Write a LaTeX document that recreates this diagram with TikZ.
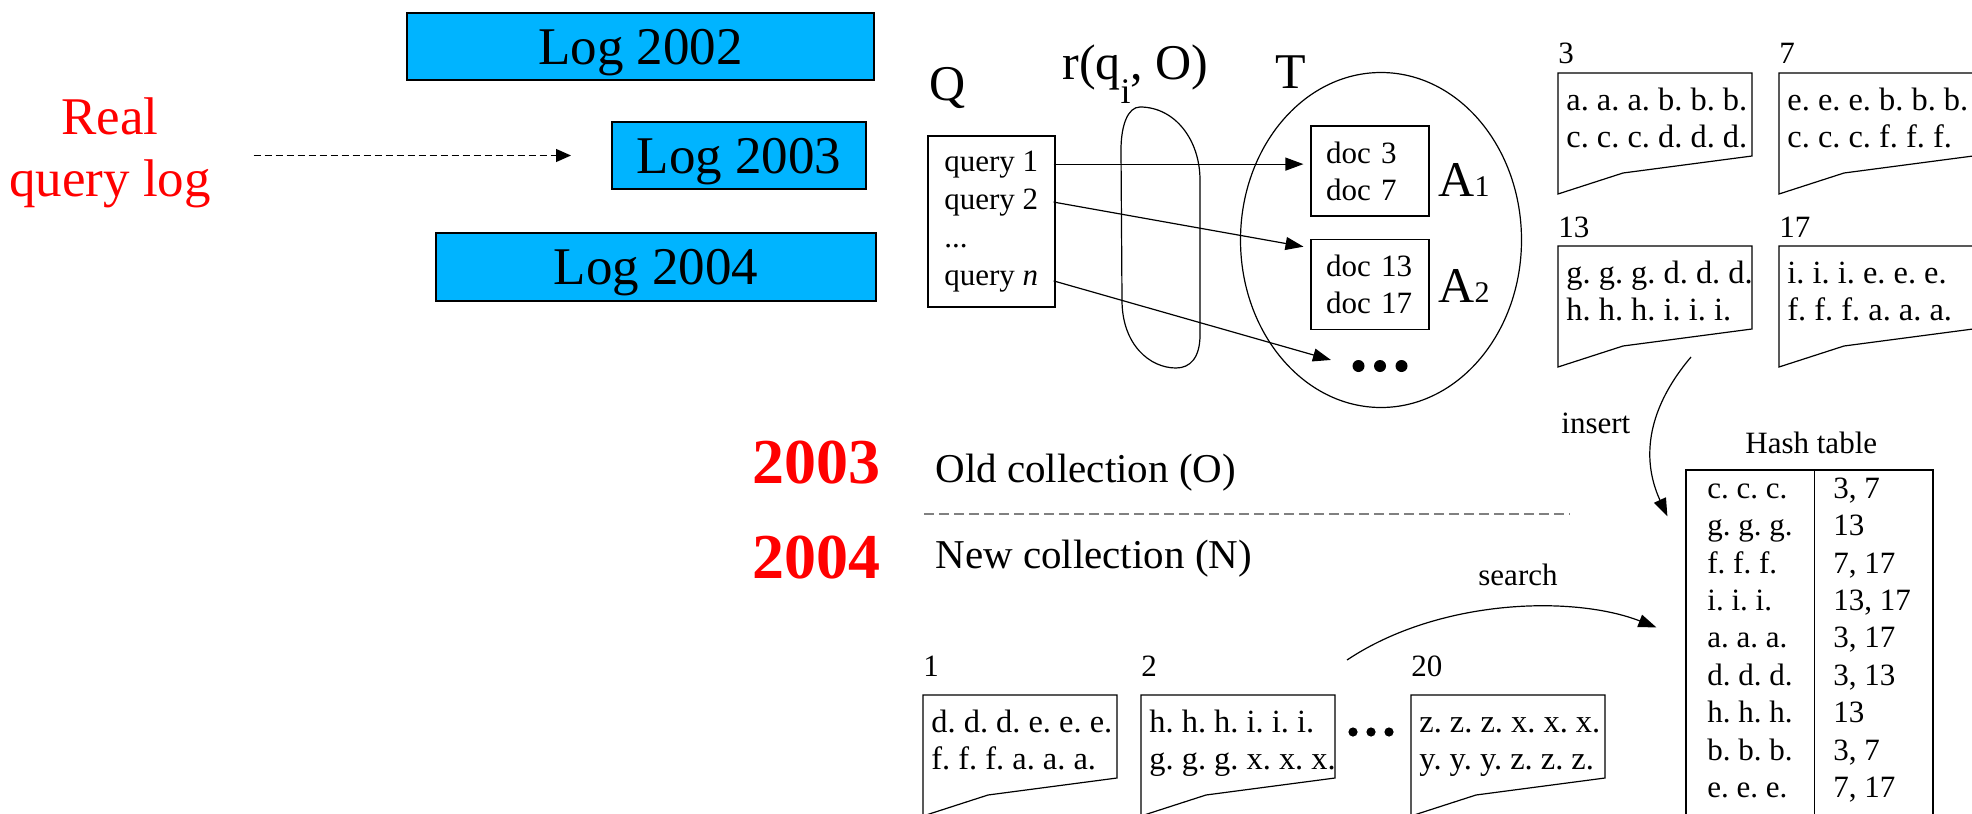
\documentclass[tikz,border=0pt]{standalone}
\usepackage{fontspec}
\setmainfont{Liberation Serif}
\usetikzlibrary{arrows.meta,calc,shapes.geometric}
\definecolor{logblue}{RGB}{0,180,255}
\begin{document}
\frenchspacing
\begin{tikzpicture}[x=0.5pt,y=-0.5pt,
  every node/.style={inner sep=0pt},
  ln/.style={line width=0.6pt},
  sm/.style={font=\fontsize{15.5}{18.5}\selectfont},
  cardfont/.style={font=\fontsize{16.2}{18.5}\selectfont},
  big/.style={font=\fontsize{25}{30}\selectfont},
  txt/.style={anchor=base west},
  arr/.style={ln,-{Triangle[length=9pt,width=6.5pt]}},
  logbox/.style={draw, line width=1pt, fill=logblue, font=\fontsize{26.5}{31}\selectfont, text height=17.8pt, text depth=0pt},
  card/.pic={\draw[ln] (0,0) -- (194,0) -- (194,83) -- (65,100) -- (0,121) -- cycle;},
  cardtext/.style={cardfont, anchor=north west, align=left},
  dotbox/.style={minimum width=27.5pt, minimum height=6pt}
]
\useasboundingbox (0,0) rectangle (1972,814);

% left part
\node[font=\fontsize{26.5}{31}\selectfont, text=red, align=center] (real) at (110,153) {Real\\query log};
\node[logbox, minimum width=233.5pt, minimum height=33.5pt] (l2002) at (640.5,46.5) {Log 2002};
\node[logbox, minimum width=127pt, minimum height=33.5pt] (l2003) at (739,155.5) {Log 2003};
\node[logbox, minimum width=220pt, minimum height=34pt] (l2004) at (656,267) {Log 2004};
\draw[ln, dash pattern=on 3.5pt off 2pt, -{Triangle[length=7.5pt,width=6.5pt]}, shorten <=21.25pt, shorten >=20pt]
  (real.east |- l2003.west) -- (l2003.west);

% years
\node[font=\fontsize{32}{38}\selectfont\bfseries, text=red, txt] (y2003) at (752,483) {2003};
\node[font=\fontsize{32}{38}\selectfont\bfseries, text=red, txt] (y2004) at (752,578) {2004};
\node[font=\fontsize{20.5}{24}\selectfont, txt] (old) at (935,482) {Old collection (O)};
\node[font=\fontsize{20.5}{24}\selectfont, txt] (new) at (935,568) {New collection (N)};
\draw[gray, line width=0.7pt, dash pattern=on 5pt off 2.5pt] (924,514) -- (1570,514);

% Q, r, T
\node[big, txt] (Q) at (929,100) {Q};
\node[big, txt] (r) at (1062,79) {r(q\raisebox{-0.48em}{\fontsize{18}{20}\selectfont i}, O)};
\node[big, txt] (T) at (1275,88) {T};

\node[draw, ln, minimum width=63.5pt, minimum height=85.5pt] (qbox) at (991.5,221.5) {};
\node[sm, txt, inner xsep=7.5pt] (q1) at (929,171) {query 1};
\node[sm, txt, inner xsep=7.5pt] (q2) at (929,209) {query 2};
\node[sm, txt, inner xsep=7.5pt] (qd) at (929,247) {...};
\node[sm, txt, inner xsep=7.5pt] (qn) at (929,285) {query \textit{n}};

\draw[ln] (1140,107) .. controls (1175,107) and (1200,140) .. (1200,180) -- (1200,335)
  .. controls (1200,358) and (1190,368) .. (1176,368) .. controls (1150,368) and (1122,345) .. (1122,300)
  -- (1121,150) .. controls (1121,125) and (1128,107) .. (1140,107) -- cycle;

\node[draw, ln, ellipse, minimum width=140.5pt, minimum height=167.5pt] (Tset) at (1381,240) {};
\node[draw, ln, sm, minimum width=59pt, minimum height=45pt, text width=44pt, align=left, inner xsep=7.5pt] (d1) at (1370,171) {doc 3\\doc 7};
\node[draw, ln, sm, minimum width=59pt, minimum height=45pt, text width=44pt, align=left, inner xsep=7.5pt] (d2) at (1370,284.5) {doc 13\\doc 17};
\node[big, txt] (A1) at (1438,196) {A{\fontsize{15}{17}\selectfont 1}};
\node[big, txt] (A2) at (1438,302) {A{\fontsize{15}{17}\selectfont 2}};
\node[dotbox] (edots) at (1380,366) {};
\foreach \i in {-1,0,1} \fill ($(edots)+(\i*21.5,0)$) circle (3pt);

\draw[arr, shorten >=3.5pt] (q1.east) -- (q1.east -| d1.west);
\draw[arr, shorten >=3.5pt] (q2.east) -- ($(d2.north west)+(0,9)$);
\draw[arr, shorten >=11pt] (qn.east) -- (edots.west);

% old collection cards
\coordinate (c3) at (1558,73);
\coordinate (c7) at (1779,73);
\coordinate (c13) at (1558,246);
\coordinate (c17) at (1779,246);
\foreach \c in {c3,c7,c13,c17} \pic at (\c) {card};
\node[sm, txt] (n3) at ($(c3)+(0,-10)$) {3};
\node[sm, txt] (n7) at ($(c7)+(0,-10)$) {7};
\node[sm, txt] (n13) at ($(c13)+(0,-9)$) {13};
\node[sm, txt] (n17) at ($(c17)+(0,-9)$) {17};
\node[cardtext] (t3) at ($(c3)+(8,11)$) {\strut a. a. a. b. b. b.\\c. c. c. d. d. d.};
\node[cardtext] (t7) at ($(c7)+(8,11)$) {\strut e. e. e. b. b. b.\\c. c. c. f. f. f.};
\node[cardtext] (t13) at ($(c13)+(8,11)$) {\strut g. g. g. d. d. d.\\h. h. h. i. i. i.};
\node[cardtext] (t17) at ($(c17)+(8,11)$) {\strut i. i. i. e. e. e.\\f. f. f. a. a. a.};

% new collection cards
\coordinate (c1) at (923,695);
\coordinate (c2) at (1141,695);
\coordinate (c20) at (1411,695);
\foreach \c in {c1,c2,c20} \pic at (\c) {card};
\node[sm, txt] (n1) at ($(c1)+(0,-19)$) {1};
\node[sm, txt] (n2) at ($(c2)+(0,-19)$) {2};
\node[sm, txt] (n20) at ($(c20)+(0,-19)$) {20};
\node[cardtext] (t1) at ($(c1)+(8,11)$) {\strut d. d. d. e. e. e.\\f. f. f. a. a. a.};
\node[cardtext] (t2) at ($(c2)+(8,11)$) {\strut h. h. h. i. i. i.\\g. g. g. x. x. x.};
\node[cardtext] (t20) at ($(c20)+(8,11)$) {\strut z. z. z. x. x. x.\\y. y. y. z. z. z.};
\node[minimum width=22.5pt, minimum height=4.5pt] (cdots) at (1371,732) {};
\foreach \i in {-1,0,1} \fill ($(cdots)+(\i*18,0)$) circle (2.3pt);

% hash table
\node[draw, ln, minimum width=123.5pt, minimum height=180pt] (ht) at (1809.5,650) {};
\draw[ln] ($(ht.north west)+(129,0)$) -- ($(ht.south west)+(129,0)$);
\node[sm, txt] (htitle) at (1745,453) {Hash table};
\node[font=\fontsize{15.5}{18.7}\selectfont, anchor=north west, align=left] (hk) at (1707,471.8)
  {\strut c. c. c.\\g. g. g.\\f. f. f.\\i. i. i.\\a. a. a.\\d. d. d.\\h. h. h.\\b. b. b.\\e. e. e.};
\node[font=\fontsize{15.5}{18.7}\selectfont, anchor=north west, align=left] (hv) at (1833,471.8)
  {\strut 3, 7\\13\\7, 17\\13, 17\\3, 17\\3, 13\\13\\3, 7\\7, 17};

\node[sm, txt] (ins) at (1561,433) {insert};
\node[sm, txt] (srch) at (1478,585) {search};
\coordinate (insS) at ($(c13)+(133,111)$);
\coordinate (insE) at ($(ht.north west)+(-18,47)$);
\draw[arr] (insS) .. controls +(-42,49.5) and +(-27.5,-60) .. (insE);
\coordinate (srS) at ($(c2)+(206,-35)$);
\coordinate (srE) at ($(ht.north west)+(-29,158)$);
\draw[arr] (srS) .. controls +(93,-62) and +(-82,-32) .. (srE);
\end{tikzpicture}
\end{document}
